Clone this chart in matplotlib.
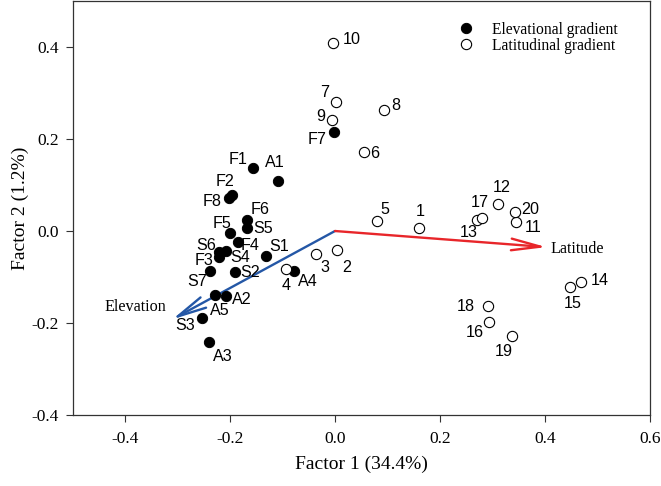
import matplotlib
matplotlib.use("Agg")
import matplotlib.pyplot as plt

# Elevational gradient sites (filled)
elev_labels = ["F1", "A1", "F2", "F8", "F6", "S5", "F5", "F4", "S6", "S4", "F3",
               "S1", "S7", "S2", "A4", "A5", "A2", "S3", "A3", "F7"]
elev_x = [-0.156, -0.109, -0.196, -0.202, -0.168, -0.168, -0.201, -0.185, -0.221, -0.208, -0.221,
          -0.132, -0.238, -0.191, -0.078, -0.228, -0.208, -0.254, -0.241, -0.002]
elev_y = [0.136, 0.109, 0.078, 0.071, 0.023, 0.006, -0.004, -0.023, -0.045, -0.043, -0.057,
          -0.054, -0.087, -0.089, -0.087, -0.140, -0.141, -0.188, -0.242, 0.215]

# Latitudinal gradient sites (open)
lat_labels = ["1", "2", "3", "4", "5", "6", "7", "8", "9", "10",
              "11", "12", "13", "14", "15", "16", "17", "18", "19", "20"]
lat_x = [0.161, 0.003, -0.036, -0.094, 0.081, 0.056, 0.002, 0.094, -0.006, -0.003,
         0.345, 0.311, 0.271, 0.468, 0.447, 0.294, 0.280, 0.291, 0.337, 0.344]
lat_y = [0.007, -0.042, -0.050, -0.083, 0.022, 0.171, 0.280, 0.262, 0.241, 0.409,
         0.020, 0.059, 0.025, -0.110, -0.122, -0.198, 0.029, -0.162, -0.228, 0.041]

# Vectors
vec_names = ["Elevation", "Latitude"]
vec_x = [-0.310, 0.403]
vec_y = [-0.192, -0.035]

# Label offsets in points (dx, dy)
elev_off = {"F1": (-11, 6.5), "A1": (-2, 13.5), "F2": (-5, 9.5), "F8": (-12, -2),
            "F6": (9.5, 8), "S5": (11.5, 0), "F5": (-5.5, 7), "F4": (9, -2.5),
            "S6": (-9.5, 4.5), "S4": (10, -4.5), "F3": (-10.5, -2), "S1": (9.5, 6.5),
            "S7": (-9.5, -7.5), "S2": (11, -0.5), "A4": (10, -7.5), "A5": (3.5, -11),
            "A2": (11.5, -2.5), "S3": (-12, -5.5), "A3": (10, -10.5), "F7": (-12, -5.5)}
lat_off = {"1": (0.5, 11.5), "2": (7, -12), "3": (6, -10), "4": (0, -12), "5": (5, 8),
           "6": (7.5, -0.5), "7": (-8, 7), "8": (8.5, 3.5), "9": (-8, 2.5), "10": (13.5, 2.5),
           "11": (12, -4), "12": (2.5, 12), "13": (-6, -9.5), "14": (13.5, 0.5),
           "15": (2.5, -11.5), "16": (-10.5, -7.5), "17": (-1.5, 11), "18": (-15.5, -0.5),
           "19": (-5.5, -11.5), "20": (10.5, 2)}

serif = ["Liberation Serif", "DejaVu Serif"]
sans = ["Liberation Sans", "DejaVu Sans"]

fig = plt.figure(figsize=(6.61, 4.86), dpi=100)
ax = fig.add_axes([0.110, 0.146, 0.873, 0.852])

ax.plot(elev_x, elev_y, linestyle="none", marker="o", markersize=7.4,
        markerfacecolor="black", markeredgecolor="black", markeredgewidth=0.7,
        label="Elevational gradient", zorder=3)
ax.plot(lat_x, lat_y, linestyle="none", marker="o", markersize=7.4,
        markerfacecolor="white", markeredgecolor="black", markeredgewidth=0.8,
        label="Latitudinal gradient", zorder=3)

for lab, x, y in zip(elev_labels, elev_x, elev_y):
    dx, dy = elev_off[lab]
    ax.annotate(lab, (x, y), xytext=(dx, dy), textcoords="offset points",
                ha="center", va="center", fontsize=11.6, family=sans, zorder=4)
for lab, x, y in zip(lat_labels, lat_x, lat_y):
    dx, dy = lat_off[lab]
    ax.annotate(lab, (x, y), xytext=(dx, dy), textcoords="offset points",
                ha="center", va="center", fontsize=11.6, family=sans, zorder=4)

colors = ["#2457a6", "#e8262a"]
for name, vx, vy, c in zip(vec_names, vec_x, vec_y, colors):
    ax.annotate("", xy=(vx, vy), xytext=(0, 0),
                arrowprops=dict(arrowstyle="->,head_length=2.1,head_width=0.42",
                                color=c, lw=1.7, shrinkA=0, shrinkB=0),
                zorder=2)

ax.text(-0.381, -0.165, "Elevation", ha="center", va="center", fontsize=11.6, family=serif)
ax.text(0.41, -0.040, "Latitude", ha="left", va="center", fontsize=11.6, family=serif)

ax.set_xlim(-0.5, 0.6)
ax.set_ylim(-0.4, 0.5)
ax.set_xticks([-0.4, -0.2, 0.0, 0.2, 0.4, 0.6])
ax.set_yticks([-0.4, -0.2, 0.0, 0.2, 0.4])
ax.set_xticklabels(["-0.4", "-0.2", "0.0", "0.2", "0.4", "0.6"], family=serif, fontsize=12.5)
ax.set_yticklabels(["-0.4", "-0.2", "0.0", "0.2", "0.4"], family=serif, fontsize=12.5)
ax.tick_params(direction="out", length=4.8, width=0.8, color="#333333")
ax.tick_params(axis="x", pad=7)
ax.tick_params(axis="y", pad=5)
for s in ax.spines.values():
    s.set_linewidth(0.9)
    s.set_color("#333333")

ax.set_xlabel("Factor 1 (34.4%)", family=serif, fontsize=14, labelpad=6)
ax.set_ylabel("Factor 2 (1.2%)", family=serif, fontsize=14, labelpad=2)

ax.legend(loc="upper left", bbox_to_anchor=(0.665, 0.950), frameon=False,
          prop={"family": serif, "size": 11.2}, labelspacing=0.0,
          handletextpad=1.1, handlelength=1.2, borderpad=0, borderaxespad=0)

fig.savefig("out.png", dpi=100)
